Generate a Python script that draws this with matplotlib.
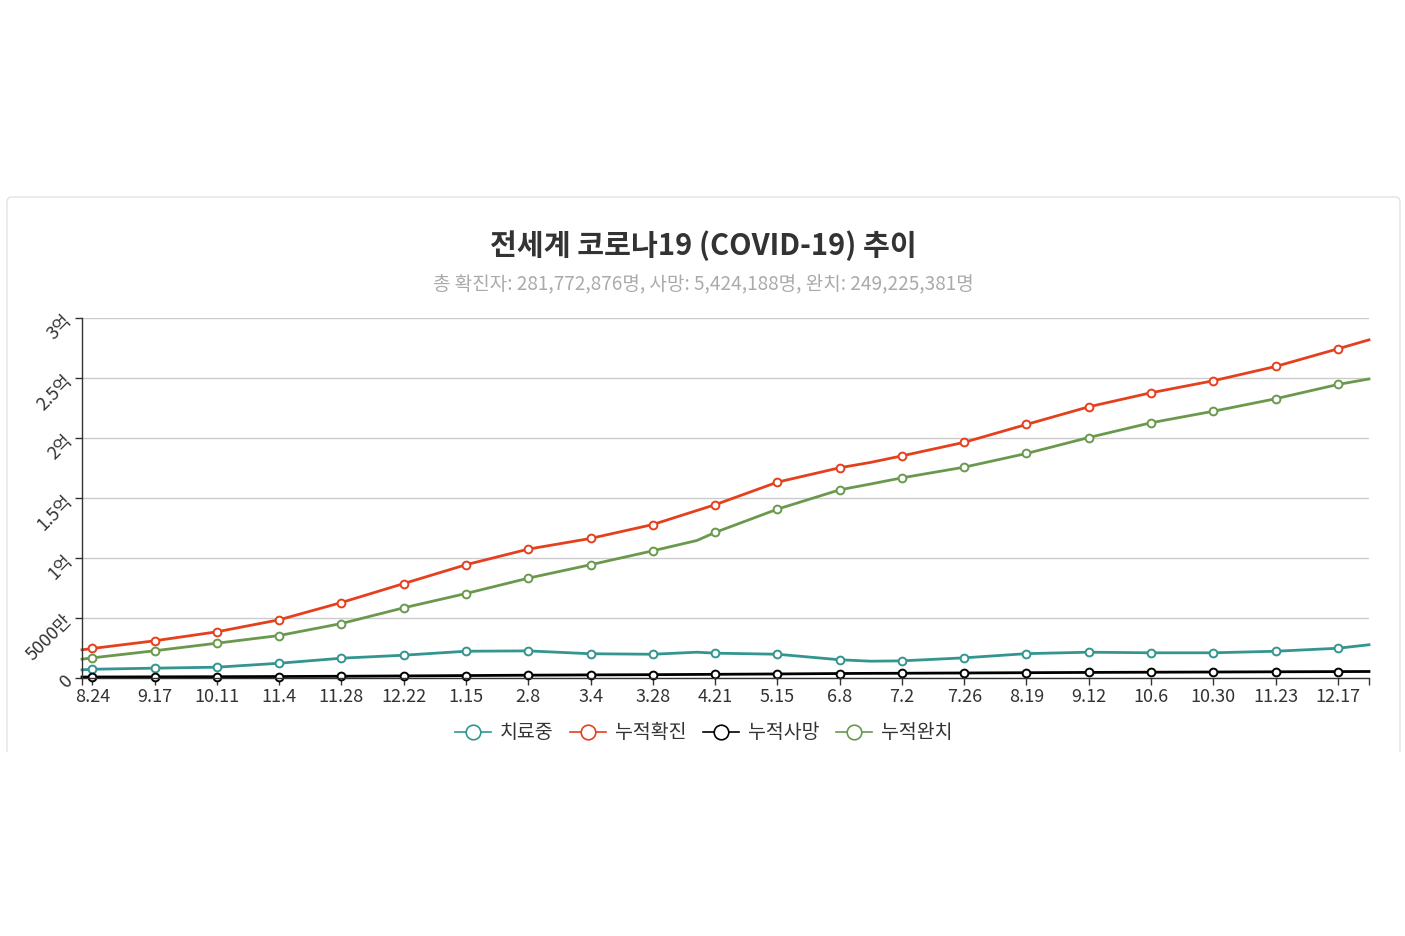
import matplotlib
matplotlib.use("Agg")
import matplotlib.pyplot as plt
from matplotlib.patches import FancyBboxPatch, Rectangle
from matplotlib.lines import Line2D
import numpy as np

plt.rcParams['font.family'] = ['Noto Sans CJK KR', 'DejaVu Sans']

# ---------------- data (millions of people) ----------------
dates = ['2020-08-20', '2020-08-24', '2020-09-17', '2020-10-11', '2020-11-04',
         '2020-11-28', '2020-12-22', '2021-01-15', '2021-02-08', '2021-03-04',
         '2021-03-28', '2021-04-14', '2021-04-21', '2021-05-15', '2021-06-08',
         '2021-06-20', '2021-07-02', '2021-07-26', '2021-08-19', '2021-09-12',
         '2021-10-06', '2021-10-30', '2021-11-23', '2021-12-17', '2021-12-29']

active = [6.8, 7.3, 8.2, 9.0, 12.3, 16.5, 19.0, 22.3, 22.6, 20.2, 19.8, 21.5,
          20.7, 19.8, 15.2, 14.0, 14.3, 16.8, 20.3, 21.5, 21.0, 21.0, 22.3, 24.8, 27.7]
confirmed = [23.5, 24.6, 31.0, 38.5, 48.5, 62.9, 78.7, 94.4, 107.4, 116.3, 127.9, 139.6,
             144.4, 163.2, 175.2, 179.7, 185.1, 196.4, 211.3, 226.0, 237.7, 247.7, 259.6, 274.3, 281.8]
deaths = [0.79, 0.82, 0.95, 1.08, 1.24, 1.46, 1.73, 2.03, 2.35, 2.58, 2.78, 2.98,
          3.07, 3.38, 3.74, 3.87, 3.96, 4.18, 4.42, 4.65, 4.83, 4.99, 5.17, 5.34, 5.42]
recovered = [15.7, 16.8, 22.7, 29.0, 35.4, 45.4, 58.5, 70.4, 83.2, 94.4, 106.0, 114.6,
             121.3, 140.7, 156.8, 161.7, 166.8, 175.7, 187.1, 200.4, 212.7, 222.3, 232.7, 244.6, 249.2]

label_dates = ['2020-08-24', '2020-09-17', '2020-10-11', '2020-11-04', '2020-11-28',
               '2020-12-22', '2021-01-15', '2021-02-08', '2021-03-04', '2021-03-28',
               '2021-04-21', '2021-05-15', '2021-06-08', '2021-07-02', '2021-07-26',
               '2021-08-19', '2021-09-12', '2021-10-06', '2021-10-30', '2021-11-23',
               '2021-12-17']
x_labels = ['8.24', '9.17', '10.11', '11.4', '11.28', '12.22', '1.15', '2.8', '3.4',
            '3.28', '4.21', '5.15', '6.8', '7.2', '7.26', '8.19', '9.12', '10.6',
            '10.30', '11.23', '12.17']

y_ticks = [0, 50, 100, 150, 200, 250, 300]
y_labels = ['0', '5000만', '1억', '1.5억', '2억', '2.5억', '3억']

series_names = ['치료중', '누적확진', '누적사망', '누적완치']
series_values = [active, confirmed, deaths, recovered]
series_colors = ['#33958f', '#e5401d', '#000000', '#6a994e']

title = '전세계 코로나19 (COVID-19) 추이'
subtitle = '총 확진자: 281,772,876명, 사망: 5,424,188명, 완치: 249,225,381명'

# ---------------- figure ----------------
W, H = 1405, 936
fig = plt.figure(figsize=(W / 100, H / 100), dpi=100)
fig.patch.set_facecolor('white')

# background card (pixel coordinates)
bg = fig.add_axes([0, 0, 1, 1], zorder=0)
bg.set_xlim(0, W)
bg.set_ylim(H, 0)
bg.axis('off')
card = FancyBboxPatch((7, 197), 1393, 620, boxstyle='round,pad=0,rounding_size=5',
                      facecolor='white', edgecolor='#e3e3e3', linewidth=1.0)
bg.add_patch(card)
bg.add_patch(Rectangle((0, 752), W, H - 752, facecolor='white', edgecolor='none'))

fig.text(703 / W, 1 - 245.5 / H, title, ha='center', va='center', fontsize=21,
         fontweight='bold', color='#333333')
fig.text(703 / W, 1 - 284 / H, subtitle, ha='center', va='center', fontsize=13.7,
         color='#aaaaaa')

# ---------------- chart ----------------
L, R, T, B = 82, 1369, 318, 678
ax = fig.add_axes([L / W, 1 - B / H, (R - L) / W, (B - T) / H], zorder=2)
ax.patch.set_alpha(0)

xd = np.array(dates, dtype='datetime64[D]')
lab_d = np.array(label_dates, dtype='datetime64[D]')
lab_set = set(lab_d.tolist())
mark_idx = [i for i, d in enumerate(xd.tolist()) if d in lab_set]

for name, vals, col in zip(series_names, series_values, series_colors):
    ax.plot(xd, vals, color=col, lw=2.0, solid_joinstyle='round',
            marker='o', markevery=mark_idx, markersize=5.6,
            markerfacecolor='white', markeredgecolor=col, markeredgewidth=1.4,
            clip_on=False)

ax.set_xlim(xd[0], xd[-1])
ax.set_ylim(0, 300)

ax.set_yticks(y_ticks)
ax.set_yticklabels(y_labels)
for lbl in ax.get_yticklabels():
    lbl.set_rotation(45)
    lbl.set_rotation_mode('anchor')
    lbl.set_ha('right')
    lbl.set_va('center')
ax.set_xticks(lab_d)
ax.set_xticklabels(x_labels)
ax.set_xticks([xd[0], xd[-1]], minor=True)

ax.tick_params(axis='both', which='both', direction='out', length=5, width=1,
               color='#333333', labelcolor='#333333', labelsize=13)
ax.tick_params(axis='x', pad=2)
ax.tick_params(axis='y', pad=4)

ax.grid(axis='y', color='#cccccc', linewidth=1)
ax.set_axisbelow(True)
for s in ['top', 'right']:
    ax.spines[s].set_visible(False)
for s in ['left', 'bottom']:
    ax.spines[s].set_color('#333333')
    ax.spines[s].set_linewidth(1)

# ---------------- legend ----------------
legend_cx = [473, 588, 721, 854]
ly = 732
for cx, name, col in zip(legend_cx, series_names, series_colors):
    bg.add_line(Line2D([cx - 18, cx + 18], [ly, ly], color=col, lw=1.2))
    bg.add_line(Line2D([cx], [ly], marker='o', markersize=10.5, markerfacecolor='white',
                       markeredgecolor=col, markeredgewidth=1.2))
    bg.text(cx + 27, ly + 0.5, name, ha='left', va='center', fontsize=14, color='#333333')

fig.savefig('out.png', dpi=100, facecolor='white')
